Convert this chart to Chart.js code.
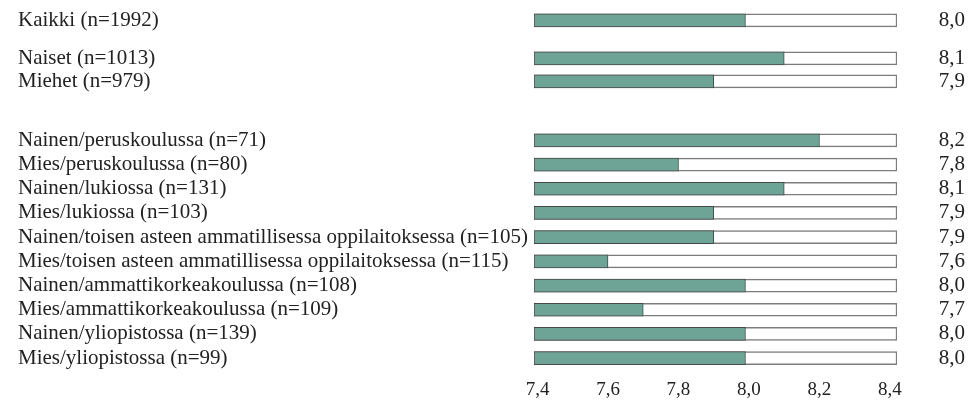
<!DOCTYPE html>
<html><head><meta charset="utf-8">
<script src="https://cdn.jsdelivr.net/npm/chart.js@4"></script>
<style>html,body{margin:0;padding:0;background:#fff}#wrap{position:relative;width:970px;height:401px}</style>
</head><body><div id="wrap"><canvas id="c"></canvas></div>
<script>
// ---- data ----
const categories = [
  "Kaikki (n=1992)",
  "Naiset (n=1013)",
  "Miehet (n=979)",
  "Nainen/peruskoulussa (n=71)",
  "Mies/peruskoulussa (n=80)",
  "Nainen/lukiossa (n=131)",
  "Mies/lukiossa (n=103)",
  "Nainen/toisen asteen ammatillisessa oppilaitoksessa (n=105)",
  "Mies/toisen asteen ammatillisessa oppilaitoksessa (n=115)",
  "Nainen/ammattikorkeakoulussa (n=108)",
  "Mies/ammattikorkeakoulussa (n=109)",
  "Nainen/yliopistossa (n=139)",
  "Mies/yliopistossa (n=99)"
];
const values = [7.99, 8.10, 7.90, 8.20, 7.80, 8.10, 7.90, 7.90, 7.60, 7.99, 7.70, 7.99, 7.99];
const xTickValues = [7.4, 7.6, 7.8, 8.0, 8.2, 8.4];

// ---- layout (row spacing in row units) ----
const rowSteps = [0, 1.57, 0.95, 2.44, 1, 1, 1, 1, 1, 1, 1, 1, 1];
const rowPos = [];
rowSteps.reduce((acc, s) => { const p = acc + s; rowPos.push(p); return p; }, 0);
const X_MIN = 7.39, X_MAX = 8.42;
const Y_MIN = -0.84, Y_MAX = 14.45;

const fmt = v => v.toFixed(1).replace('.', ',');
const FAMILY = "'Liberation Serif', serif";
const TXT = '#222';
const yTicks = s => { s.ticks = rowPos.map(v => ({value: v})); };
const yFit = w => s => { s.width = w; s.paddingTop = 0; s.paddingBottom = 0; };

new Chart(document.getElementById('c'), {
  type: 'bar',
  data: {
    datasets: [
      {
        data: values.map((v, i) => ({x: v, y: rowPos[i]})),
        backgroundColor: '#6ea495',
        borderColor: '#484848',
        borderWidth: 1,
        borderSkipped: false,
        barThickness: 13,
        base: X_MIN,
        grouped: false,
        order: 0
      },
      {
        data: rowPos.map(p => ({x: X_MAX, y: p})),
        backgroundColor: '#ffffff',
        borderColor: '#7c7c7c',
        borderWidth: 1.5,
        borderSkipped: false,
        barThickness: 13,
        base: X_MIN,
        grouped: false,
        order: 1
      }
    ]
  },
  options: {
    indexAxis: 'y',
    responsive: true,
    maintainAspectRatio: false,
    animation: false,
    layout: {padding: {left: 18, top: 0, right: 5, bottom: 0}},
    plugins: {legend: {display: false}, tooltip: {enabled: false}},
    scales: {
      x: {
        type: 'linear', min: X_MIN, max: X_MAX,
        grid: {display: false, drawTicks: false},
        border: {display: false},
        afterBuildTicks: s => { s.ticks = xTickValues.map(v => ({value: v})); },
        afterFit: s => { s.height = 31; },
        ticks: {font: {family: FAMILY, size: 19}, color: TXT, padding: 9, autoSkip: false, maxRotation: 0,
                callback: v => fmt(v)}
      },
      y: {
        type: 'linear', position: 'left', reverse: true, offset: false, min: Y_MIN, max: Y_MAX,
        grid: {display: false, drawTicks: false},
        border: {display: false},
        afterBuildTicks: yTicks,
        afterFit: yFit(516),
        ticks: {font: {family: FAMILY, size: 21}, color: TXT, crossAlign: 'far', autoSkip: false, padding: 0,
                callback: (v, i) => categories[i]}
      },
      y2: {
        type: 'linear', position: 'right', reverse: true, offset: false, min: Y_MIN, max: Y_MAX,
        grid: {display: false, drawTicks: false},
        border: {display: false},
        afterBuildTicks: yTicks,
        afterFit: yFit(68),
        ticks: {font: {family: FAMILY, size: 21}, color: TXT, crossAlign: 'far', autoSkip: false, padding: 0,
                callback: (v, i) => fmt(values[i])}
      }
    }
  }
});
</script>
</body></html>
